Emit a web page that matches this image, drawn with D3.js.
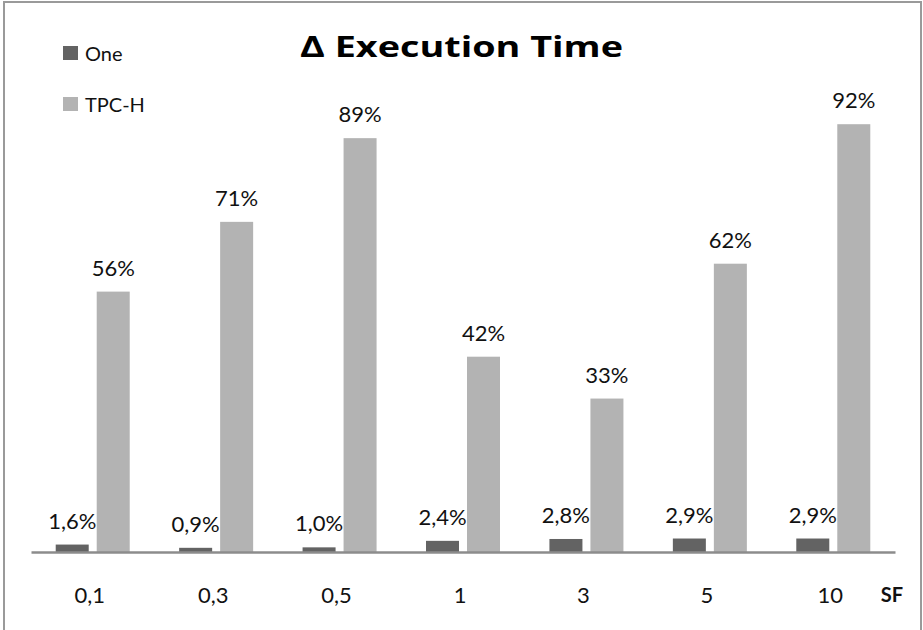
<!DOCTYPE html>
<html>
<head>
<meta charset="utf-8">
<script src="https://cdn.jsdelivr.net/npm/d3@7"></script>
<style>
  html, body { margin: 0; padding: 0; background: #fff; }
  svg { display: block; font-family: Lato, "Open Sans", sans-serif; }
</style>
</head>
<body>
<svg id="chart" width="923" height="630"></svg>
<script>
// Scale factors and the two measured series (percent change in execution time)
const categories = ["0,1", "0,3", "0,5", "1", "3", "5", "10"];
const seriesNames = ["One", "TPC-H"];
const oneValues = [1.6, 0.9, 1.0, 2.4, 2.8, 2.9, 2.9];
const tpchValues = [56, 71, 89, 42, 33, 62, 92];
const colors = ["#636363", "#b3b3b3"];

const svg = d3.select("#chart");
const W = 923, H = 630;

// outer frame (open at the bottom edge)
svg.append("rect")
  .attr("x", 4).attr("y", 2)
  .attr("width", 917).attr("height", 660)
  .attr("fill", "none").attr("stroke", "#9a9a9a").attr("stroke-width", 2);

const plot = { left: 31, right: 895, baseline: 552, top: 87 };

const x = d3.scaleBand().domain(categories).range([plot.left, plot.right]).padding(0);
const y = d3.scaleLinear().domain([0, 100]).range([plot.baseline, plot.top]);

const barW = 33, gap = 8;
const fmt = v => (v >= 10 ? d3.format(".0f")(v) : d3.format(".1f")(v).replace(".", ",")) + "%";

const series = [oneValues, tpchValues];
series.forEach((vals, si) => {
  const offset = (x.bandwidth() - (2 * barW + gap)) / 2 + si * (barW + gap);
  const g = svg.append("g");
  g.selectAll("rect").data(vals).join("rect")
    .attr("x", (d, i) => x(categories[i]) + offset)
    .attr("y", d => y(d))
    .attr("width", barW)
    .attr("height", d => y(0) - y(d))
    .attr("fill", colors[si]);
  g.selectAll("text").data(vals).join("text")
    .attr("x", (d, i) => x(categories[i]) + offset + barW / 2)
    .attr("y", d => y(d) - 16)
    .attr("text-anchor", "middle")
    .attr("font-size", 22)
    .attr("fill", "#111")
    .text(fmt);
});

// category axis
const xAxis = svg.append("g")
  .attr("transform", `translate(0,${plot.baseline})`)
  .call(d3.axisBottom(x).tickSize(0).tickPadding(35));
xAxis.select(".domain").attr("stroke", "#8c8c8c").attr("stroke-width", 2.5);
xAxis.selectAll("text")
  .attr("font-size", 22).attr("fill", "#111")
  .attr("font-family", "Lato, 'Open Sans', sans-serif")
  .attr("dx", -3);

svg.append("text")
  .attr("x", 892).attr("y", 602)
  .attr("text-anchor", "middle")
  .attr("font-size", 20).attr("font-weight", "bold").attr("fill", "#111")
  .text("SF");

// title, stretched to the wide rendering of the heading
svg.append("text")
  .attr("x", 300).attr("y", 57)
  .attr("font-family", "'Open Sans', sans-serif")
  .attr("font-size", 29).attr("font-weight", "bold").attr("fill", "#000")
  .attr("textLength", 323).attr("lengthAdjust", "spacingAndGlyphs")
  .text("Δ Execution Time");

// legend
const legend = svg.append("g");
seriesNames.forEach((name, i) => {
  const ly = 46 + i * 51;
  legend.append("rect")
    .attr("x", 63).attr("y", ly).attr("width", 15).attr("height", 14)
    .attr("fill", colors[i]);
  legend.append("text")
    .attr("x", 85).attr("y", ly + 15)
    .attr("font-size", 20).attr("fill", "#111")
    .text(name);
});
</script>
</body>
</html>
